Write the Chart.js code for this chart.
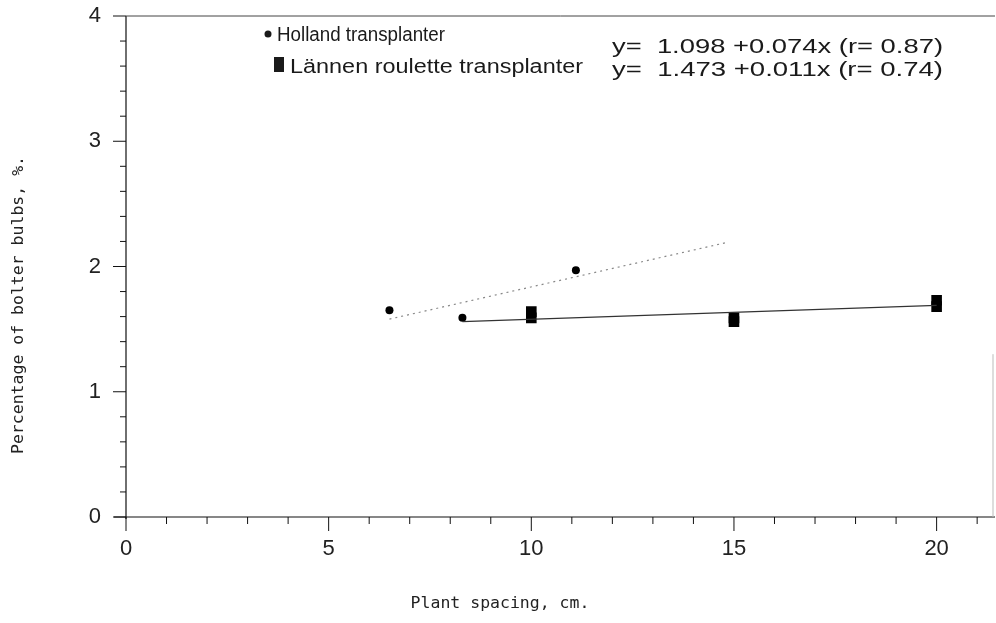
<!DOCTYPE html>
<html>
<head>
<meta charset="utf-8">
<script src="https://cdn.jsdelivr.net/npm/chart.js@4.4.1/dist/chart.umd.min.js"></script>
<style>
  html, body { margin: 0; padding: 0; background: #fff; }
  #wrap { width: 996px; height: 623px; }
</style>
</head>
<body>
<div id="wrap"><canvas id="chart" width="996" height="623"></canvas></div>
<script>
// Data
const hollandX = [6.5, 8.3, 11.1];
const hollandY = [1.65, 1.59, 1.97];
const lannenX = [10, 10, 15, 15, 20, 20];
const lannenY = [1.64, 1.59, 1.59, 1.56, 1.73, 1.68];
// regression line end points (as drawn)
const hollandFitX = [6.5, 14.8];
const hollandFitY = [1.58, 2.19];
const lannenFitX = [8.3, 20];
const lannenFitY = [1.56, 1.69];

const xTickLabels = [0, 5, 10, 15, 20];
const yTickLabels = [0, 1, 2, 3, 4];

const legendNames = ['Holland transplanter', 'Lännen roulette transplanter'];
const equations = ['y=  1.098 +0.074x (r= 0.87)', 'y=  1.473 +0.011x (r= 0.74)'];

const toPoints = (xs, ys) => xs.map((x, i) => ({ x: x, y: ys[i] }));

// text squeezed to a given width (the original uses a condensed face)
function fitText(ctx, text, x, y, width, font) {
    ctx.save();
    ctx.font = font;
    const w = ctx.measureText(text).width;
    ctx.translate(x, y);
    ctx.scale(width / w, 1);
    ctx.fillText(text, 0, 0);
    ctx.restore();
}

const framePlugin = {
    id: 'frame',
    afterDraw(chart) {
        const ctx = chart.ctx;
        const xs = chart.scales.x, ys = chart.scales.y;
        const a = chart.chartArea;
        const rightEdge = chart.width - 1;
        ctx.save();
        ctx.strokeStyle = '#111';
        ctx.lineWidth = 1.2;
        // axes (the x axis runs on to the paper edge)
        ctx.beginPath();
        ctx.moveTo(a.left - 12, a.bottom); ctx.lineTo(rightEdge, a.bottom);
        ctx.moveTo(a.left, a.top); ctx.lineTo(a.left, a.bottom + 2);
        ctx.stroke();
        // top border and faint right edge
        ctx.strokeStyle = '#444';
        ctx.lineWidth = 1;
        ctx.beginPath();
        ctx.moveTo(a.left, a.top); ctx.lineTo(rightEdge, a.top);
        ctx.stroke();
        ctx.strokeStyle = '#bbb';
        ctx.beginPath();
        ctx.moveTo(rightEdge - 2, ys.getPixelForValue(1.3)); ctx.lineTo(rightEdge - 2, a.bottom);
        ctx.stroke();
        // tick marks
        ctx.strokeStyle = '#111';
        ctx.beginPath();
        for (let v = 0; v <= 21; v++) {
            const px = xs.getPixelForValue(v);
            const len = v % 5 === 0 ? 14 : 7;
            ctx.moveTo(px, a.bottom); ctx.lineTo(px, a.bottom + len);
        }
        for (let i = 0; i <= 20; i++) {
            const py = ys.getPixelForValue(i * 0.2);
            const len = i % 5 === 0 ? 13 : 6;
            ctx.moveTo(a.left, py); ctx.lineTo(a.left - len, py);
        }
        ctx.stroke();

        // axis titles
        ctx.fillStyle = '#222';
        ctx.font = '16.5px "DejaVu Sans Mono", "Liberation Mono", monospace';
        ctx.textAlign = 'center';
        ctx.textBaseline = 'middle';
        ctx.fillText('Plant spacing, cm.', 500, 604);
        ctx.save();
        ctx.translate(19, 305);
        ctx.rotate(-Math.PI / 2);
        ctx.fillText('Percentage of bolter bulbs, %.', 0, 0);
        ctx.restore();

        // legend and equations
        const f = '20px "Liberation Sans Narrow", "Liberation Sans", Arial, sans-serif';
        ctx.textAlign = 'left';
        ctx.textBaseline = 'alphabetic';
        ctx.fillStyle = '#1a1a1a';
        ctx.beginPath();
        ctx.arc(268, 34, 3.5, 0, Math.PI * 2);
        ctx.fill();
        ctx.fillRect(274, 57, 10, 15);
        fitText(ctx, legendNames[0], 277, 41, 168, f);
        fitText(ctx, legendNames[1], 290, 73, 293, f);
        fitText(ctx, equations[0], 612, 53, 331, f);
        fitText(ctx, equations[1], 612, 76, 331, f);
        ctx.restore();
    }
};

new Chart(document.getElementById('chart').getContext('2d'), {
    type: 'scatter',
    data: {
        datasets: [
            {
                label: 'Holland fit',
                data: toPoints(hollandFitX, hollandFitY),
                showLine: true,
                borderColor: '#888',
                borderWidth: 1.2,
                borderDash: [2, 4],
                pointRadius: 0
            },
            {
                label: 'Lännen fit',
                data: toPoints(lannenFitX, lannenFitY),
                showLine: true,
                borderColor: '#333',
                borderWidth: 1.3,
                pointRadius: 0
            },
            {
                label: legendNames[0],
                data: toPoints(hollandX, hollandY),
                pointStyle: 'circle',
                pointRadius: 4,
                backgroundColor: '#000',
                borderColor: '#000',
                borderWidth: 0
            },
            {
                label: legendNames[1],
                data: toPoints(lannenX, lannenY),
                pointStyle: 'rect',
                pointRadius: 7.5,
                backgroundColor: '#000',
                borderColor: '#000',
                borderWidth: 0
            }
        ]
    },
    options: {
        responsive: false,
        animation: false,
        layout: { padding: { top: 16, right: 1, left: 0, bottom: 0 } },
        plugins: {
            legend: { display: false },
            tooltip: { enabled: false }
        },
        scales: {
            x: {
                type: 'linear',
                min: 0,
                max: 21.28,
                afterFit(scale) {
                    scale.height = 106;
                    scale.paddingLeft = 0;
                    scale.paddingRight = 0;
                },
                afterBuildTicks(scale) { scale.ticks = xTickLabels.map(v => ({ value: v })); },
                grid: { display: false, drawTicks: false },
                border: { display: false },
                ticks: {
                    padding: 19,
                    color: '#222',
                    font: { family: '"Liberation Sans", Arial, sans-serif', size: 22 }
                }
            },
            y: {
                type: 'linear',
                min: 0,
                max: 4,
                afterFit(scale) {
                    scale.width = 126;
                    scale.paddingTop = 0;
                    scale.paddingBottom = 0;
                },
                afterBuildTicks(scale) { scale.ticks = yTickLabels.map(v => ({ value: v })); },
                grid: { display: false, drawTicks: false },
                border: { display: false },
                ticks: {
                    padding: 25,
                    color: '#222',
                    font: { family: '"Liberation Sans", Arial, sans-serif', size: 22 }
                }
            }
        }
    },
    plugins: [framePlugin]
});
</script>
</body>
</html>
